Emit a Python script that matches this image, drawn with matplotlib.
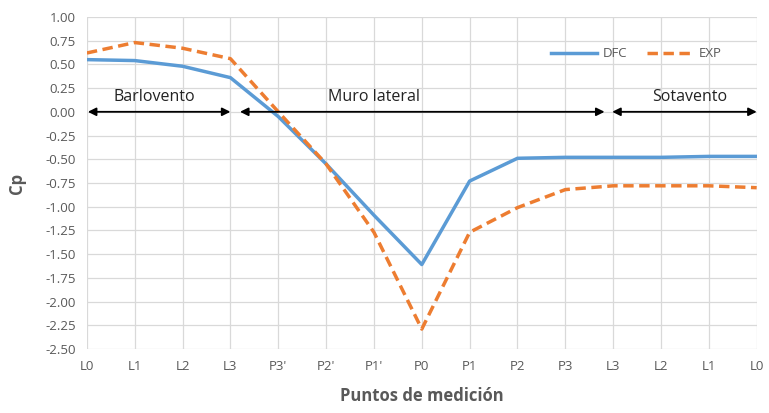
import matplotlib.pyplot as plt

# Datos
puntos = ["L0", "L1", "L2", "L3", "P3'", "P2'", "P1'", "P0",
          "P1", "P2", "P3", "L3", "L2", "L1", "L0"]
cp_dfc = [0.55, 0.54, 0.48, 0.36, -0.05, -0.55, -1.09, -1.61,
          -0.73, -0.49, -0.48, -0.48, -0.48, -0.47, -0.47]
cp_exp = [0.62, 0.73, 0.67, 0.56, 0.00, -0.55, -1.27, -2.29,
          -1.27, -1.01, -0.82, -0.78, -0.78, -0.78, -0.80]
yticks = [1.00 - 0.25 * i for i in range(15)]

zonas = ["Barlovento", "Muro lateral", "Sotavento"]
zonas_x = [(0.02, 3.0), (3.2, 10.82), (10.98, 14.0)]
zonas_texto_x = [1.4, 6.0, 12.6]

plt.rcParams['font.family'] = ['Open Sans', 'DejaVu Sans']
gris = '#595959'

fig = plt.figure(figsize=(7.69, 4.13), dpi=100)
ax = fig.add_axes([0.113, 0.155, 0.871, 0.804])

x = list(range(len(puntos)))
ax.plot(x, cp_dfc, color='#5B9BD5', lw=2.5, label='DFC')
ax.plot(x, cp_exp, color='#ED7D31', lw=2.5, ls=(0, (3, 1.6)), label='EXP')

ax.set_xlim(0, 14)
ax.set_ylim(-2.5, 1.0)
ax.set_xticks(x)
ax.set_xticklabels(puntos)
ax.set_yticks(yticks)
ax.set_yticklabels(["%.2f" % v for v in yticks])
ax.tick_params(axis='both', length=0, labelsize=9.5, colors=gris, pad=8)
ax.grid(True, color='#D9D9D9', lw=0.9)
for s in ax.spines.values():
    s.set_visible(False)

# flechas de zonas
for (x0, x1), nombre, tx in zip(zonas_x, zonas, zonas_texto_x):
    ax.annotate('', xy=(x0, 0), xytext=(x1, 0),
                arrowprops=dict(arrowstyle='<|-|>', color='black', lw=1.3,
                                mutation_scale=12, shrinkA=0, shrinkB=0))
    ax.text(tx, 0.16, nombre, ha='center', va='center', fontsize=11.5, color='#222222')

ax.legend(loc='center right', bbox_to_anchor=(0.965, 0.889), ncol=2, frameon=False,
          fontsize=9.5, handlelength=3.5, columnspacing=1.5, handletextpad=0.4,
          labelcolor=gris)

ax.set_ylabel('Cp', fontsize=12, fontweight='bold', color=gris, labelpad=14)
ax.set_xlabel('Puntos de medición', fontsize=12, fontweight='bold', color=gris, labelpad=10)

fig.savefig('out.png', dpi=100)
